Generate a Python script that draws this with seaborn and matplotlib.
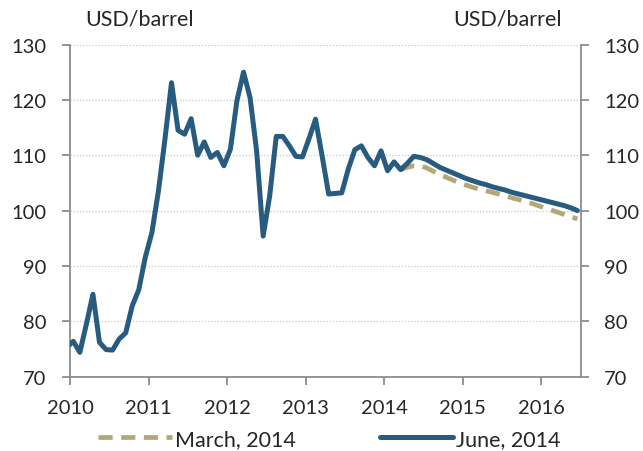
import numpy as np
import pandas as pd
import matplotlib.pyplot as plt
import seaborn as sns

# Brent oil price, monthly, USD/barrel (Dec 2009 lead-in, then Jan 2010 - Jun 2016)
june_start = 2009 + 11 / 12
june = [75.3,
        76.4, 74.4, 79.5, 84.9, 76.2, 74.9, 74.8, 76.8, 77.9, 82.8, 85.7, 91.6,
        96.0, 103.5, 112.9, 123.1, 114.5, 113.8, 116.6, 110.0, 112.4, 109.6, 110.5, 108.1,
        111.1, 119.9, 125.0, 120.4, 110.8, 95.4, 102.7, 113.4, 113.4, 111.7, 109.8, 109.7,
        113.0, 116.5, 109.9, 103.0, 103.1, 103.2, 107.5, 111.0, 111.7, 109.6, 108.1, 110.8,
        107.2, 108.8, 107.4, 108.5, 109.8, 109.6, 109.2, 108.5, 107.8, 107.3, 106.8, 106.3,
        105.8, 105.4, 105.0, 104.7, 104.3, 104.0, 103.7, 103.3, 103.0, 102.7, 102.4, 102.1,
        101.8, 101.5, 101.2, 100.9, 100.5, 100.0]

# March 2014 projection, Mar 2014 - Jun 2016
march_start = 2014 + 2 / 12
march = [107.4, 107.8, 108.1, 108.1, 107.7, 107.1, 106.5, 106.0, 105.5, 105.0,
         104.6, 104.2, 103.9, 103.6, 103.3, 103.0, 102.7, 102.3, 102.0, 101.6,
         101.3, 100.9, 100.5, 100.1, 99.7, 99.3, 98.9, 98.5]

years = [2010, 2011, 2012, 2013, 2014, 2015, 2016]
yticks = [70, 80, 90, 100, 110, 120, 130]

blue = "#285b80"
tan = "#b4a777"
grey = "#8c8c8c"

# points sit in the middle of each month
df_june = pd.DataFrame({"t": june_start + (np.arange(len(june)) + 0.5) / 12, "v": june})
df_march = pd.DataFrame({"t": march_start + (np.arange(len(march)) + 0.5) / 12, "v": march})

sns.set_style("white")
plt.rcParams["font.family"] = ["Lato", "DejaVu Sans"]

fig = plt.figure(figsize=(6.43, 4.52), dpi=100)
ax = fig.add_axes([0.1089, 0.1644, 0.7942, 0.7349])

sns.lineplot(data=df_march, x="t", y="v", ax=ax, color=tan, linewidth=3.4,
             label="March, 2014", zorder=3)
ax.lines[-1].set_dashes([3.0, 1.8])
sns.lineplot(data=df_june, x="t", y="v", ax=ax, color=blue, linewidth=3.6,
             label="June, 2014", zorder=4)

ax.set_xlim(2010, 2016.5)
ax.set_ylim(70, 130)
ax.set_xticks(years)
ax.set_xticklabels([str(y) for y in years])
ax.set_yticks(yticks)
ax.set_xlabel("")
ax.set_ylabel("")

ax.grid(axis="y", color="#c8c8c8", linestyle=(0, (1, 1.5)), linewidth=0.9)
ax.grid(axis="x", visible=False)

for side in ["left", "right", "bottom"]:
    ax.spines[side].set_visible(True)
    ax.spines[side].set_color(grey)
    ax.spines[side].set_linewidth(1.3)
ax.spines["top"].set_visible(False)

ax.tick_params(axis="y", which="both", left=True, right=True, labelleft=True,
               labelright=True, direction="out", length=6, width=1.3,
               color=grey, labelsize=14.5, pad=11)
ax.tick_params(axis="x", bottom=True, direction="out", length=6, width=1.3,
               color=grey, labelsize=14.5, pad=10)

fig.text(85 / 643, 1 - 20 / 452, "USD/barrel", fontsize=15.5, ha="left", va="center")
fig.text(562 / 643, 1 - 20 / 452, "USD/barrel", fontsize=15.5, ha="right", va="center")

handles, labels = ax.get_legend_handles_labels()
ax.get_legend().remove()
fig.legend(handles, labels, loc="center", bbox_to_anchor=(0.5 + 8 / 643, 1 - 440 / 452),
           ncol=2, frameon=False, fontsize=15.5, handlelength=3.4,
           handletextpad=0.15, columnspacing=3.9, borderaxespad=0)

fig.savefig("out.png", dpi=100)
